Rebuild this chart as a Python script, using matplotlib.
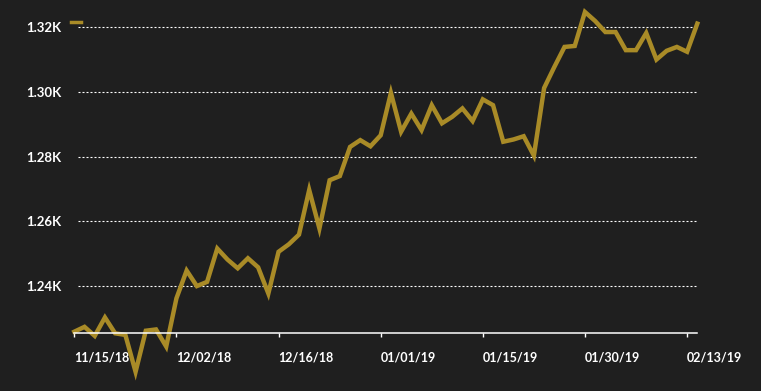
import matplotlib
matplotlib.use("Agg")
import matplotlib.pyplot as plt
from matplotlib.lines import Line2D

# gold closing price, one value per point on the axis
price = [1225.9, 1227.4, 1224.6, 1230.3, 1225.4, 1224.9, 1213.5, 1226.2, 1226.6, 1221.3,
         1236.2, 1244.8, 1240.0, 1241.3, 1251.6, 1248.2, 1245.5, 1248.6, 1245.8, 1237.7,
         1250.6, 1252.9, 1255.9, 1269.7, 1257.8, 1272.7, 1274.0, 1283.0, 1285.1, 1283.2,
         1286.6, 1299.7, 1287.7, 1293.3, 1288.2, 1295.9, 1290.3, 1292.3, 1294.9, 1291.0,
         1297.7, 1295.9, 1284.6, 1285.3, 1286.3, 1280.3, 1301.2, 1307.7, 1313.9, 1314.2,
         1324.7, 1321.9, 1318.5, 1318.5, 1312.9, 1312.9, 1318.2, 1310.0, 1312.7, 1313.9,
         1312.4, 1321.1]
x_ticks = [0, 10, 20, 30, 40, 50, 60]
x_labels = ["11/15/18", "12/02/18", "12/16/18", "01/01/19", "01/15/19", "01/30/19", "02/13/19"]
y_ticks = [1240, 1260, 1280, 1300, 1320]
y_labels = ["1.24K", "1.26K", "1.28K", "1.30K", "1.32K"]

bg = "#1f1f1f"
gold = "#a98b27"
plt.rcParams["font.family"] = ["Lato", "DejaVu Sans"]

fig = plt.figure(figsize=(7.61, 3.91), dpi=100, facecolor=bg)
ax = fig.add_axes([74.3 / 761, 58 / 391, 623 / 761, 333 / 391])
ax.set_facecolor(bg)

# dotted grid drawn by hand so it stays under the line
for v in y_ticks:
    ax.axhline(v, xmin=0.006, xmax=1, color="white", lw=0.8, dashes=(1.8, 1.8), zorder=1)

ax.plot(range(len(price)), price, color=gold, lw=3.2, clip_on=False, zorder=2,
        solid_joinstyle="miter")

ax.set_xlim(0, len(price) - 1)
ax.set_ylim(1225.5, 1328.4)

ax.set_yticks(y_ticks)
ax.set_yticklabels(y_labels)
ax.set_xticks(x_ticks)
ax.set_xticklabels(x_labels, ha="left")

for s in ["left", "right", "top"]:
    ax.spines[s].set_visible(False)
ax.spines["bottom"].set_color("white")
ax.spines["bottom"].set_linewidth(1.1)

ax.tick_params(axis="y", length=0, pad=9.5, labelcolor="white", labelsize=9.5)
ax.tick_params(axis="x", length=3, width=1, color="white", pad=10,
               labelcolor="white", labelsize=9)
for t in ax.get_xticklabels() + ax.get_yticklabels():
    t.set_fontweight("bold")

# legend swatch (label cut off in the source)
leg = ax.legend(handles=[Line2D([], [], color=gold, lw=2.5)], labels=[""],
                loc="center left", bbox_to_anchor=(64 / 761, 1 - 23 / 391),
                bbox_transform=fig.transFigure, frameon=False,
                handlelength=0.75, borderpad=0, handletextpad=0)

fig.savefig("out.png", dpi=100, facecolor=bg)
